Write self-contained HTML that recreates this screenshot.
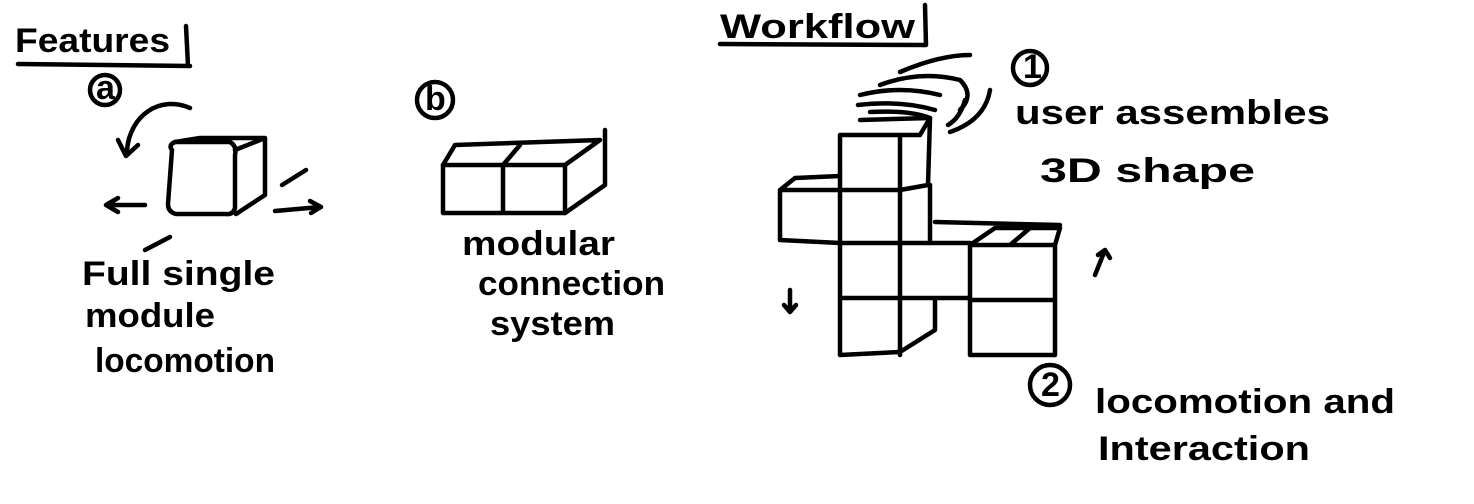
<!DOCTYPE html>
<html><head><meta charset="utf-8"><style>
html,body{margin:0;padding:0;background:#fff;}
svg{display:block}
text{font-family:"Liberation Sans",sans-serif;font-size:34px;font-weight:bold;fill:#000;}
</style></head><body>
<svg width="1474" height="504" viewBox="0 0 1474 504" xmlns="http://www.w3.org/2000/svg" fill="none" stroke="#000" stroke-width="4.5" stroke-linecap="round" stroke-linejoin="round">
<!-- Features -->
<text x="15" y="52" stroke="none" font-size="30" textLength="155" lengthAdjust="spacingAndGlyphs">Features</text>
<path d="M18 64 L190 66 M186 26 L188 66"/>
<circle cx="105" cy="90" r="15"/><text x="96" y="99" stroke="none" font-size="24">a</text>
<path d="M190 108 C160 95 130 115 127 150"/><path d="M118 140 L126 156 L138 145"/>
<path d="M172 150 Q168 145 175 142 L230 142 Q237 146 235 155 L235 208 Q233 215 226 214 L176 214 Q168 212 168 204 Z"/>
<path d="M175 142 L200 138 L265 138 L235 150 M265 138 L265 195 L236 214"/>
<path d="M145 205 L108 205 M118 198 L106 205 L118 212"/>
<path d="M275 211 L320 207 M310 201 L321 207 L311 213"/>
<path d="M282 185 L306 170"/>
<path d="M170 237 L145 250"/>
<text x="82" y="285" stroke="none" textLength="193" lengthAdjust="spacingAndGlyphs">Full single</text>
<text x="85" y="327" stroke="none" textLength="130" lengthAdjust="spacingAndGlyphs">module</text>
<text x="95" y="372" stroke="none" textLength="180" lengthAdjust="spacingAndGlyphs">locomotion</text>
<!-- b -->
<circle cx="435" cy="100" r="18"/><text x="425" y="110" stroke="none" font-size="26">b</text>
<path d="M443 165 L565 165 L565 213 L443 213 Z M503 165 L503 213"/>
<path d="M443 165 L455 145 L600 140 L565 165 M503 165 L520 145 M605 130 L605 185 L565 213"/>
<text x="462" y="255" stroke="none" textLength="153" lengthAdjust="spacingAndGlyphs">modular</text>
<text x="478" y="295" stroke="none" textLength="187" lengthAdjust="spacingAndGlyphs">connection</text>
<text x="490" y="335" stroke="none" textLength="125" lengthAdjust="spacingAndGlyphs">system</text>
<!-- Workflow -->
<text x="720" y="38" stroke="none" font-size="30" textLength="195" lengthAdjust="spacingAndGlyphs">Workflow</text>
<path d="M720 44 L925 45 M925 5 L926 45"/>
<circle cx="1030" cy="68" r="17"/><text x="1023" y="78" stroke="none" font-size="24">1</text>
<text x="1015" y="124" stroke="none" textLength="315" lengthAdjust="spacingAndGlyphs">user assembles</text>
<text x="1040" y="182" stroke="none" textLength="215" lengthAdjust="spacingAndGlyphs">3D shape</text>
<!-- hand -->
<path d="M900 72 Q940 55 970 55 M880 85 Q920 70 960 80 Q975 95 960 110 M860 95 Q900 85 940 95 M858 105 Q900 100 935 110 M870 112 Q910 110 930 118 M990 90 Q985 120 950 132 M965 100 Q960 118 948 125"/>
<!-- cube stack -->
<path d="M840 135 L920 135 M840 135 L840 355 L900 352 M860 120 L930 118 L920 135 M930 118 L928 185 L900 190 M900 135 L900 355 M840 190 L900 190 M840 243 L900 243 M840 298 L900 298"/>
<path d="M780 190 L840 190 M780 190 L780 240 L840 243 M780 190 L795 178 L840 176"/>
<path d="M900 243 L970 243 M900 298 L970 298 M900 352 L935 330 L935 300 M930 185 L930 243 M935 222 L1060 225"/>
<path d="M970 245 L1055 245 L1055 355 L970 355 Z M970 300 L1055 300 M970 245 L995 228 L1060 228 L1055 245 M1030 228 L1010 245"/>
<path d="M1105 250 L1095 275 M1098 255 L1105 250 L1110 258"/>
<path d="M790 290 L790 312 M784 305 L790 312 L796 305"/>
<circle cx="1050" cy="385" r="20"/><text x="1041" y="396" stroke="none" font-size="26">2</text>
<text x="1095" y="413" stroke="none" textLength="300" lengthAdjust="spacingAndGlyphs">locomotion and</text>
<text x="1098" y="460" stroke="none" textLength="212" lengthAdjust="spacingAndGlyphs">Interaction</text>
</svg>
</body></html>
